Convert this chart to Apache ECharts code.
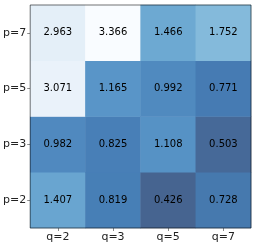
<!DOCTYPE html>
<html><head><meta charset="utf-8">
<script src="https://cdn.jsdelivr.net/npm/echarts@6/dist/echarts.min.js"></script>
<style>html,body{margin:0;padding:0;background:#fff}#c{width:257px;height:245px}</style>
</head><body><div id="c"></div>
<script>
var xCats = ['q=2','q=3','q=5','q=7'];
var yCats = ['p=2','p=3','p=5','p=7'];
var rowP7 = [2.963, 3.366, 1.466, 1.752];
var rowP5 = [3.071, 1.165, 0.992, 0.771];
var rowP3 = [0.982, 0.825, 1.108, 0.503];
var rowP2 = [1.407, 0.819, 0.426, 0.728];
var rows = [rowP2, rowP3, rowP5, rowP7];
var data = [];
rows.forEach(function(r, yi){ r.forEach(function(v, xi){ data.push([xi, yi, v]); }); });
var all = [].concat(rowP7,rowP5,rowP3,rowP2);
var vmin = Math.min.apply(null, all), vmax = Math.max.apply(null, all);
var chart = echarts.init(document.getElementById('c'), null, {renderer:'canvas'});
var font = 'DejaVu Sans';
chart.setOption({
  animation:false,
  grid:{left:29, right:6, top:5, bottom:17, show:true, borderColor:'rgba(0,0,0,0.55)', borderWidth:1, z:10},
  xAxis:{type:'category', data:xCats, splitArea:{show:false},
    axisLine:{show:false}, axisTick:{show:true, alignWithLabel:true, length:3, lineStyle:{color:'rgba(0,0,0,0.45)'}},
    axisLabel:{color:'#222', fontFamily:font, fontSize:11, margin:4}},
  yAxis:{type:'category', data:yCats, splitArea:{show:false},
    axisLine:{show:false}, axisTick:{show:true, alignWithLabel:true, length:3, lineStyle:{color:'rgba(0,0,0,0.45)'}},
    axisLabel:{color:'#222', fontFamily:font, fontSize:11, margin:4}},
  visualMap:{show:false, min:vmin, max:vmax, dimension:2, calculable:false,
    inRange:{color:['#466490','#467db5','#5995c8','#71add4','#90c2e0','#b6d7e9','#d4e4f3','#e6f0f9','#f9fcff']}},
  series:[{type:'heatmap', data:data,
    label:{show:true, color:'#000', fontFamily:font, fontSize:10,
      formatter:function(p){return p.value[2].toFixed(3);}},
    itemStyle:{borderWidth:0}}]
});
</script></body></html>
